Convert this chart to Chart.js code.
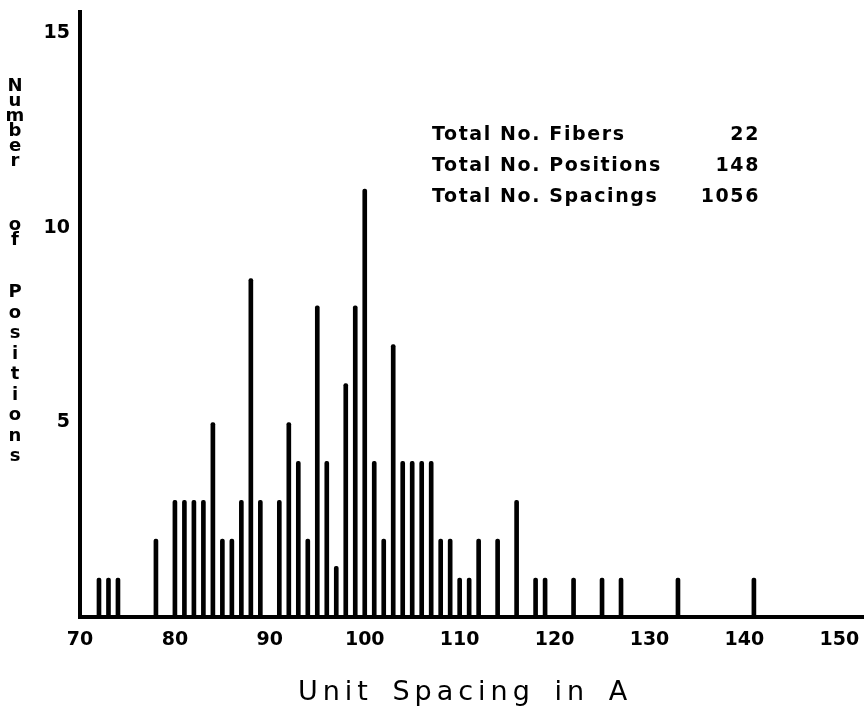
<!DOCTYPE html>
<html>
<head>
    <title>Unit Spacing Histogram</title>
    <script src="https://cdn.jsdelivr.net/npm/chart.js"></script>
    <style>
        body { margin: 0; background: #fff; font-family: "DejaVu Sans", sans-serif; color: #000; }
        #wrap { position: relative; width: 864px; height: 708px; }
        #wrap canvas { position: absolute; left: 0; top: 0; }
        .yword { position: absolute; left: 5px; width: 20px; text-align: center; font-size: 18px; font-weight: bold; }
        .stat { position: absolute; left: 432px; width: 328px; display: flex; justify-content: space-between;
                font-size: 19px; font-weight: bold; letter-spacing: 1.6px; line-height: 22px; }
        #xtitle { position: absolute; left: 0; width: 864px; top: 675px; text-align: center; padding-left: 66px; box-sizing: border-box;
                  font-size: 27px; letter-spacing: 5px; word-spacing: 6px; line-height: 32px; }
    </style>
</head>
<body>
<div id="wrap">
    <canvas id="spacingChart" width="864" height="708"></canvas>
    <div class="yword" id="yw0" style="top:77px; line-height:15px;"></div>
    <div class="yword" id="yw1" style="top:216px; line-height:15px;"></div>
    <div class="yword" id="yw2" style="top:281px; line-height:20.5px;"></div>
    <div class="stat" style="top:122px;"><span>Total No. Fibers</span><span>22</span></div>
    <div class="stat" style="top:153px;"><span>Total No. Positions</span><span>148</span></div>
    <div class="stat" style="top:184px;"><span>Total No. Spacings</span><span>1056</span></div>
    <div id="xtitle">Unit Spacing in A</div>
</div>

<script>
    // unit spacing (A) and number of positions
    const spacings = [72, 73, 74, 78, 80, 81, 82, 83, 84, 85, 86, 87, 88, 89, 91, 92, 93, 94, 95, 96,
                      97, 98, 99, 100, 101, 102, 103, 104, 105, 106, 107, 108, 109, 110, 111, 112,
                      114, 116, 118, 119, 122, 125, 127, 133, 141];
    const counts = [1, 1, 1, 2, 3, 3, 3, 3, 5, 2, 2, 3, 8.7, 3, 3, 5, 4, 2, 8, 4,
                    1.3, 6, 8, 11, 4, 2, 7, 4, 4, 4, 4, 2, 2, 1, 1, 2,
                    2, 3, 1, 1, 1, 1, 1, 1, 1];
    const xTicks = [70, 80, 90, 100, 110, 120, 130, 140, 150];
    const yTicks = [5, 10, 15];
    const yTitleWords = ['Number', 'of', 'Positions'];

    yTitleWords.forEach((w, i) => {
        document.getElementById('yw' + i).innerHTML = w.split('').join('<br>');
    });

    const tickFont = { family: '"DejaVu Sans", sans-serif', size: 19, weight: 'bold' };

    // drop the automatic label padding so the plot fills the canvas
    function noPad(s) {
        s.paddingTop = 0; s.paddingBottom = 0; s.paddingLeft = 0; s.paddingRight = 0;
    }

    const ctx = document.getElementById('spacingChart').getContext('2d');
    new Chart(ctx, {
        type: 'bar',
        data: {
            datasets: [{
                data: spacings.map((s, i) => ({ x: s, y: counts[i] })),
                backgroundColor: '#000',
                barThickness: 4,
                borderRadius: 2,
                borderSkipped: 'bottom'
            }]
        },
        options: {
            responsive: false,
            animation: false,
            layout: { padding: { top: 12, left: 0, right: 0, bottom: 0 } },
            plugins: {
                legend: { display: false },
                tooltip: { enabled: false }
            },
            scales: {
                x: {
                    type: 'linear',
                    offset: false,
                    min: 70,
                    max: 152.6,
                    grid: { display: false, drawTicks: false },
                    border: { display: true, color: '#000', width: 4 },
                    ticks: { color: '#000', font: tickFont, padding: 12, maxRotation: 0, autoSkip: false },
                    afterBuildTicks: s => { s.ticks = xTicks.map(v => ({ value: v })); },
                    afterFit: s => { s.height = 91; noPad(s); }
                },
                y: {
                    min: 0,
                    max: 15.55,
                    grid: { display: false, drawTicks: false },
                    border: { display: true, color: '#000', width: 4 },
                    ticks: { color: '#000', font: tickFont, padding: 10 },
                    afterBuildTicks: s => { s.ticks = yTicks.map(v => ({ value: v })); },
                    afterFit: s => { s.width = 80; noPad(s); }
                }
            }
        }
    });
</script>
</body>
</html>
